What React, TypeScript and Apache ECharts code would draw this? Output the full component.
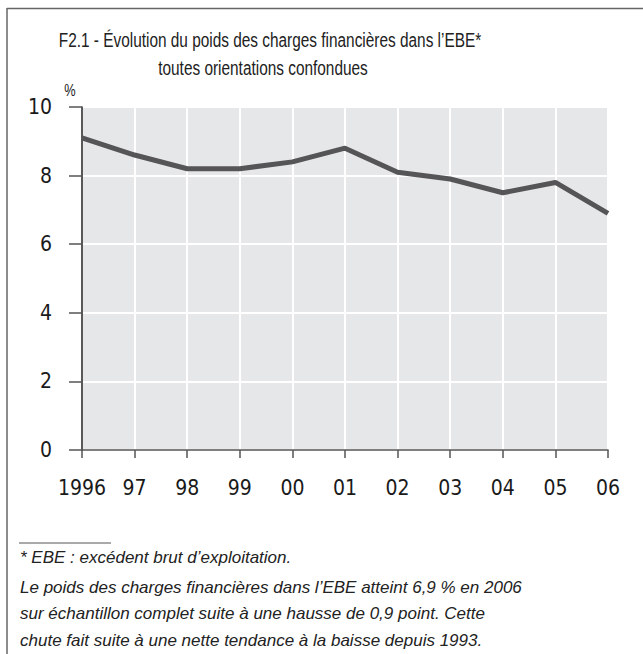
import React, { useEffect, useRef } from "react";
import * as echarts from "echarts";

const years = ["1996", "97", "98", "99", "00", "01", "02", "03", "04", "05", "06"];
const values = [9.1, 8.6, 8.2, 8.2, 8.4, 8.8, 8.1, 7.9, 7.5, 7.8, 6.9];
const yTicks = { min: 0, max: 10, interval: 2 };
const titleLines = [
  "F2.1 - Évolution du poids des charges financières dans l’EBE*",
  "toutes orientations confondues",
];
const unitLabel = "%";
const footnotes = [
  "* EBE : excédent brut d’exploitation.",
  "Le poids des charges financières dans l’EBE atteint 6,9 % en 2006",
  "sur échantillon complet suite à une hausse de 0,9 point. Cette",
  "chute fait suite à une nette tendance à la baisse depuis 1993.",
];

const COND = "DejaVu Sans Condensed";
const SANS = "Liberation Sans";

export default function App() {
  const ref = useRef<HTMLDivElement>(null);
  useEffect(() => {
    if (!ref.current) return;
    const chart = echarts.init(ref.current, undefined, { renderer: "svg" });
    const footY = [557, 587, 613, 640];
    const graphics: any[] = [
      { type: "line", shape: { x1: 7, y1: 8.5, x2: 643, y2: 8.5 }, style: { stroke: "#666", lineWidth: 1.5 } },
      { type: "line", shape: { x1: 7, y1: 8, x2: 7, y2: 654 }, style: { stroke: "#666", lineWidth: 1.5 } },
      ...titleLines.map((t, i) => ({
        type: "text",
        x: i === 0 ? 270 : 263,
        y: 40 + i * 28,
        scaleX: 0.77,
        style: {
          text: t,
          fill: "#222",
          fontFamily: SANS,
          fontSize: 20,
          align: "center",
          verticalAlign: "middle",
        },
      })),
      {
        type: "text",
        x: 70,
        y: 90,
        scaleX: 0.8,
        style: { text: unitLabel, fill: "#222", fontFamily: SANS, fontSize: 16, align: "center", verticalAlign: "middle" },
      },
      { type: "line", shape: { x1: 19, y1: 543, x2: 111, y2: 543 }, style: { stroke: "#555", lineWidth: 1 } },
      ...footnotes.map((t, i) => ({
        type: "text",
        x: 20,
        y: footY[i],
        style: {
          text: t,
          fill: "#222",
          fontFamily: SANS,
          fontStyle: "italic",
          fontSize: 17,
          align: "left",
          verticalAlign: "middle",
        },
      })),
    ];
    chart.setOption({
      animation: false,
      backgroundColor: "#ffffff",
      grid: { left: 82, right: 35, top: 107, bottom: 204, containLabel: false, show: true, backgroundColor: "#e6e7e9", borderWidth: 0 },
      xAxis: {
        type: "category",
        data: years,
        boundaryGap: false,
        axisLine: { show: true, lineStyle: { color: "#555", width: 1.5 } },
        axisTick: { show: true, length: 8, interval: 0, lineStyle: { color: "#555", width: 1.5 } },
        axisLabel: { color: "#1a1a1a", fontFamily: COND, fontSize: 21, margin: 27, interval: 0 },
        splitLine: { show: true, interval: 0, lineStyle: { color: "#ffffff", width: 2 } },
      },
      yAxis: {
        type: "value",
        min: yTicks.min,
        max: yTicks.max,
        interval: yTicks.interval,
        axisLine: { show: true, lineStyle: { color: "#222", width: 1.5 } },
        axisTick: { show: true, length: 13, inside: false, lineStyle: { color: "#555", width: 1.5 } },
        axisLabel: { color: "#1a1a1a", fontFamily: COND, fontSize: 21, margin: 30 },
        splitLine: { show: true, lineStyle: { color: "#ffffff", width: 2 } },
      },
      series: [
        {
          type: "line",
          data: values,
          symbol: "none",
          lineStyle: { color: "#555558", width: 5 },
          z: 3,
        },
      ],
      graphic: graphics,
    });
    return () => chart.dispose();
  }, []);
  return <div ref={ref} style={{ position: "absolute", left: 0, top: 0, width: 643, height: 654 }} />;
}
